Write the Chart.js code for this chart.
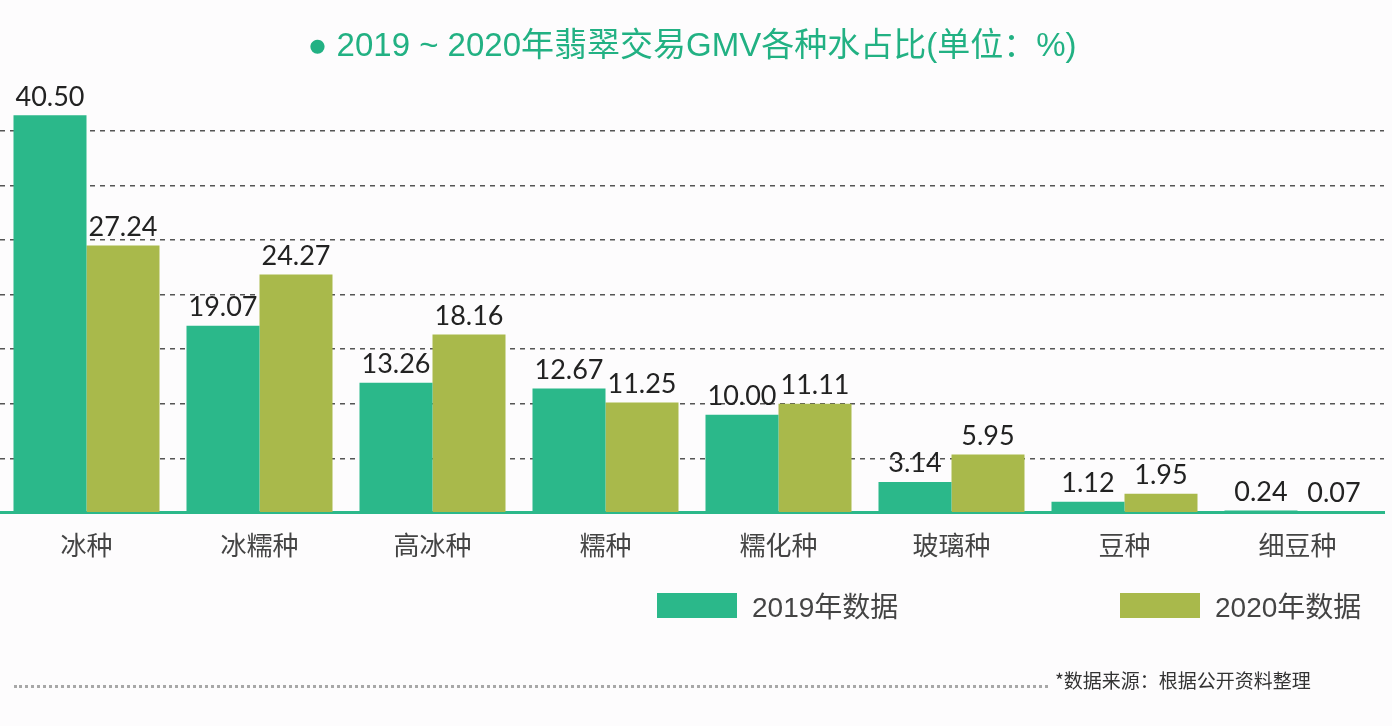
<!DOCTYPE html>
<html>
<head>
<meta charset="utf-8">
<script src="https://cdn.jsdelivr.net/npm/chart.js@4/dist/chart.umd.min.js"></script>
<style>
  html, body { margin: 0; padding: 0; background: #fdfcfd; }
  #wrap { position: relative; width: 1392px; height: 726px; }
  #chart { position: absolute; left: 0; top: 0; }
  .legend-item { position: absolute; top: 585px; display: flex; align-items: center; }
  .legend-box { width: 80px; height: 25px; margin-right: 15px; }
  .legend-text { font: 28px "Liberation Sans", "Noto Sans CJK SC", sans-serif; color: #444; }
  #dots { position: absolute; left: 14px; top: 685px; width: 1034px; border-top: 3px dotted #a8a8a8; }
  #source { position: absolute; left: 1055px; top: 666px; font: 19px "Noto Sans CJK SC", sans-serif; color: #333; }
</style>
</head>
<body>
<div id="wrap">
  <canvas id="chart" width="1392" height="726"></canvas>
  <div class="legend-item" style="left:657px"><div class="legend-box" style="background:#2bb88a"></div><span class="legend-text">2019年数据</span></div>
  <div class="legend-item" style="left:1120px"><div class="legend-box" style="background:#a9b94b"></div><span class="legend-text">2020年数据</span></div>
  <div id="dots"></div>
  <div id="source">*数据来源：根据公开资料整理</div>
</div>
<script>
// jade GMV share by water type, 2019 vs 2020 (%)
const categories = ['冰种', '冰糯种', '高冰种', '糯种', '糯化种', '玻璃种', '豆种', '细豆种'];
const gmv2019 = [40.50, 19.07, 13.26, 12.67, 10.00, 3.14, 1.12, 0.24];
const gmv2020 = [27.24, 24.27, 18.16, 11.25, 11.11, 5.95, 1.95, 0.07];

// dashed guide lines every 50/9 units, 8 steps up to the top
const gridStep = 50 / 9;
const gridCount = 8;

const color2019 = '#2bb88a';
const color2020 = '#a9b94b';

// values written above each bar
const barLabels = {
  id: 'barLabels',
  afterDatasetsDraw(chart) {
    const ctx = chart.ctx;
    ctx.save();
    ctx.font = '27px Lato, "Liberation Sans", sans-serif';
    ctx.fillStyle = '#222';
    ctx.textAlign = 'center';
    ctx.textBaseline = 'bottom';
    chart.data.datasets.forEach((ds, i) => {
      chart.getDatasetMeta(i).data.forEach((bar, j) => {
        ctx.fillText(ds.data[j].toFixed(2), bar.x, bar.y - 5);
      });
    });
    ctx.restore();
  }
};

new Chart(document.getElementById('chart'), {
  type: 'bar',
  data: {
    labels: categories,
    datasets: [
      { label: '2019年数据', data: gmv2019, backgroundColor: color2019, borderWidth: 0 },
      { label: '2020年数据', data: gmv2020, backgroundColor: color2020, borderWidth: 0 }
    ]
  },
  options: {
    responsive: false,
    animation: false,
    layout: { padding: { left: 0, right: 8, top: 0, bottom: 148 } },
    datasets: { bar: { barPercentage: 1, categoryPercentage: 0.844 } },
    plugins: {
      legend: { display: false },
      tooltip: { enabled: false },
      title: {
        display: true,
        text: '● 2019 ~ 2020年翡翠交易GMV各种水占比(单位：%)',
        color: '#22b183',
        font: { size: 33, weight: 'normal', family: '"Liberation Sans", "Noto Sans CJK SC", sans-serif' },
        padding: { top: 27, bottom: 10 }
      }
    },
    scales: {
      x: {
        grid: { display: false, drawTicks: false },
        border: { display: true, color: color2019, width: 3 },
        ticks: {
          padding: 17,
          color: '#444',
          font: { size: 26, family: '"Noto Sans CJK SC", sans-serif' }
        }
      },
      y: {
        min: 0,
        max: gridStep * gridCount,
        afterBuildTicks(scale) {
          const ticks = [];
          for (let i = 0; i <= gridCount; i++) ticks.push({ value: i * gridStep });
          scale.ticks = ticks;
        },
        ticks: { display: false },
        border: { display: false, dash: [5, 5] },
        grid: {
          drawTicks: false,
          lineWidth: 1.5,
          color: function(ctx) {
            if (ctx.index === 0 || ctx.index === gridCount) return 'rgba(0,0,0,0)';
            return '#555';
          }
        }
      }
    }
  },
  plugins: [barLabels]
});
</script>
</body>
</html>
